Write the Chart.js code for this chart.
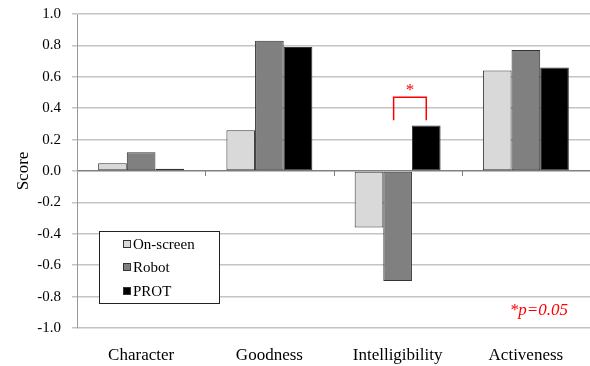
<!DOCTYPE html>
<html>
<head>
<meta charset="utf-8">
<script src="https://cdn.jsdelivr.net/npm/chart.js@4"></script>
<style>
  html, body { margin: 0; padding: 0; background: #fff; }
  #wrap { width: 590px; height: 366px; }
</style>
</head>
<body>
<div id="wrap"><canvas id="myChart" width="590" height="366"></canvas></div>
<script>
var categories = ['Character', 'Goodness', 'Intelligibility', 'Activeness'];
var seriesNames = ['On-screen', 'Robot', 'PROT'];
var onScreen = [0.05, 0.26, -0.36, 0.64];
var robot = [0.12, 0.83, -0.70, 0.77];
var prot = [0.015, 0.79, 0.29, 0.66];
var colors = ['#d9d9d9', '#808080', '#000000'];

// significance bracket: Robot vs PROT on Intelligibility
var sigCategory = 2;
var sigPair = [1, 2];
var sigLevel = 0.47;
var sigNote = '*p=0.05';

var serif = '"Liberation Serif", "DejaVu Serif", serif';

// legend box, bracket, note and zero-line ticks
var extras = {
    id: 'extras',
    afterDatasetsDraw: function(chart) {
        var ctx = chart.ctx;
        var area = chart.chartArea;
        var y = chart.scales.y;
        ctx.save();

        // ticks on zero line at category boundaries
        var y0 = y.getPixelForValue(0);
        ctx.strokeStyle = '#808080';
        ctx.lineWidth = 1;
        for (var i = 1; i <= categories.length; i++) {
            var bx = Math.round(area.left + (area.right - area.left) * i / categories.length) + 0.5;
            ctx.beginPath();
            ctx.moveTo(bx, y0);
            ctx.lineTo(bx, y0 + 5);
            ctx.stroke();
        }

        // bracket
        var m1 = chart.getDatasetMeta(sigPair[0]).data[sigCategory];
        var m2 = chart.getDatasetMeta(sigPair[1]).data[sigCategory];
        var top = y.getPixelForValue(sigLevel);
        var low = top + 23;
        ctx.strokeStyle = '#ff0000';
        ctx.lineWidth = 1.5;
        ctx.beginPath();
        ctx.moveTo(m1.x - 4, low);
        ctx.lineTo(m1.x - 4, top);
        ctx.lineTo(m2.x, top);
        ctx.lineTo(m2.x, low);
        ctx.stroke();
        ctx.fillStyle = '#ff0000';
        ctx.font = '17px ' + serif;
        ctx.textAlign = 'center';
        ctx.textBaseline = 'middle';
        ctx.fillText('*', (m1.x - 4 + m2.x) / 2, top - 7);

        // p note
        ctx.font = 'italic 17px ' + serif;
        ctx.textAlign = 'right';
        ctx.fillText(sigNote, area.right - 22, y.getPixelForValue(-0.89));

        // legend
        var lx = area.left + 22;
        var ly = y.getPixelForValue(-0.38);
        var lw = 120;
        var lh = 72;
        ctx.fillStyle = '#ffffff';
        ctx.fillRect(lx, ly, lw, lh);
        ctx.strokeStyle = '#222';
        ctx.lineWidth = 1;
        ctx.strokeRect(Math.round(lx) + 0.5, Math.round(ly) + 0.5, lw, lh);
        ctx.font = '15px ' + serif;
        ctx.textAlign = 'left';
        ctx.textBaseline = 'middle';
        for (var k = 0; k < seriesNames.length; k++) {
            var ry = Math.round(ly + 13 + k * 23.5);
            ctx.fillStyle = colors[k];
            ctx.fillRect(Math.round(lx) + 24, ry - 4, 8, 8);
            ctx.strokeStyle = '#333';
            ctx.strokeRect(Math.round(lx) + 24.5, ry - 3.5, 7, 7);
            ctx.fillStyle = '#000';
            ctx.fillText(seriesNames[k], lx + 34, ry + 1);
        }
        ctx.restore();
    }
};

var chartCtx = document.getElementById('myChart').getContext('2d');
var myChart = new Chart(chartCtx, {
    type: 'bar',
    data: {
        labels: categories,
        datasets: [
            { label: seriesNames[0], data: onScreen, backgroundColor: colors[0] },
            { label: seriesNames[1], data: robot, backgroundColor: colors[1] },
            { label: seriesNames[2], data: prot, backgroundColor: colors[2] }
        ]
    },
    options: {
        responsive: false,
        animation: false,
        devicePixelRatio: 1,
        layout: { padding: { top: 14, right: 0, left: 0, bottom: 0 } },
        datasets: {
            bar: {
                categoryPercentage: 0.67,
                barPercentage: 1.0,
                borderColor: '#333333',
                borderWidth: 1,
                borderSkipped: false
            }
        },
        plugins: {
            legend: { display: false },
            tooltip: { enabled: false }
        },
        scales: {
            x: {
                afterFit: function(scale) { scale.height = 38; },
                grid: { display: false, drawTicks: false },
                border: { display: false },
                ticks: {
                    color: '#000',
                    font: { family: serif, size: 17 },
                    padding: 17
                }
            },
            y: {
                min: -1,
                max: 1,
                afterFit: function(scale) {
                    scale.width = 77;
                    scale.paddingTop = 0;
                    scale.paddingBottom = 0;
                },
                ticks: {
                    stepSize: 0.2,
                    color: '#000',
                    font: { family: serif, size: 15 },
                    padding: 11,
                    callback: function(v) { return (Math.round(v * 10) / 10).toFixed(1); }
                },
                grid: {
                    color: function(c) { return c.tick && Math.abs(c.tick.value) < 1e-9 ? '#808080' : '#c4c4c4'; },
                    lineWidth: 1.5,
                    tickLength: 5,
                    tickColor: '#c4c4c4'
                },
                border: { display: true, color: '#999999', width: 1 },
                title: {
                    display: true,
                    text: 'Score',
                    color: '#000',
                    font: { family: serif, size: 17 },
                    padding: { top: 13, bottom: 0 }
                }
            }
        }
    },
    plugins: [extras]
});
</script>
</body>
</html>
